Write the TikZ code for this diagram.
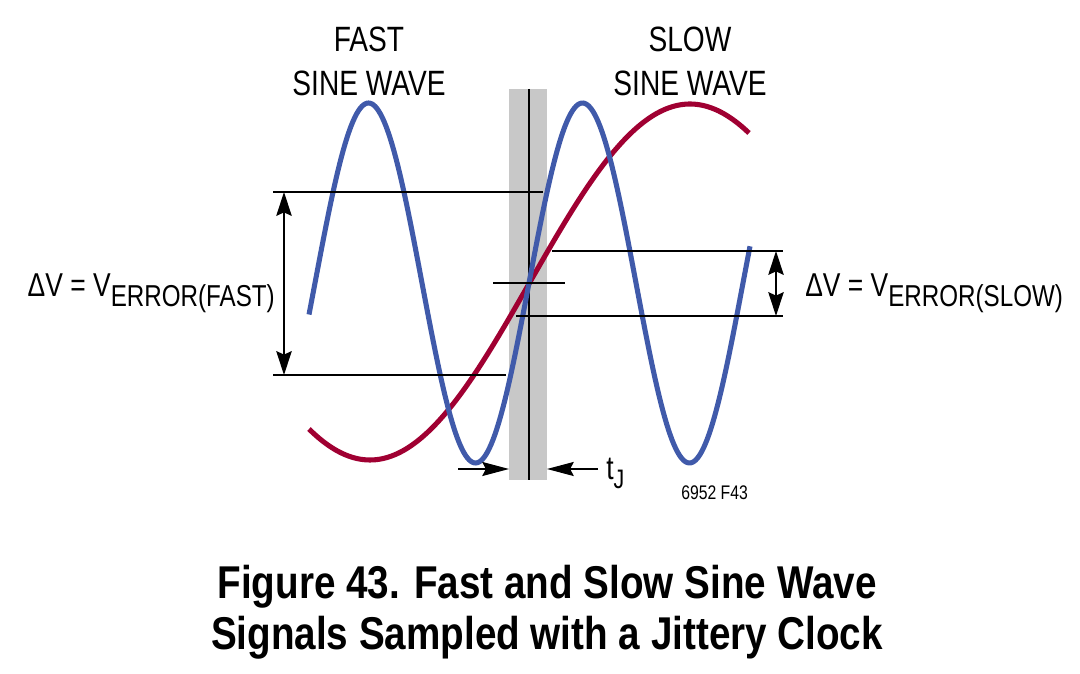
\documentclass[tikz,border=0pt]{standalone}
\usepackage{fontspec}
\setmainfont{Liberation Sans}
\newfontfamily\labfont[FakeStretch=0.8]{Liberation Sans}
\newfontfamily\capfont[FakeStretch=0.84]{Liberation Sans}
\usetikzlibrary{arrows.meta,positioning}
\definecolor{fastblue}{RGB}{64,90,170}
\definecolor{slowred}{RGB}{160,0,50}
\definecolor{jitgray}{RGB}{200,200,200}

\begin{document}
\begin{tikzpicture}[x=0.025cm, y=-0.025cm,
    wave/.style={line width=3.6pt},
    thinline/.style={line width=0.9pt},
    dimarrow/.style={line width=0.9pt, {Stealth[length=17pt,width=11pt,inset=2.5pt]}-{Stealth[length=17pt,width=11pt,inset=2.5pt]}},
    tjarrow/.style={line width=0.9pt, -{Stealth[length=19pt,width=10pt,inset=2.5pt]}},
    lab/.style={inner sep=0pt, font=\labfont\fontsize{23.5}{28}\selectfont}]
    \useasboundingbox (0,0) rectangle (1080,674);

    % Banda di jitter del clock
    \fill[jitgray] (509,89) rectangle (547,480);
    \coordinate (clk_top) at (529,89);
    \coordinate (clk_bot) at (529,480);
    \draw[thinline] (clk_top) -- (clk_bot);

    % Onde sinusoidali
    \draw[wave, slowred] plot[domain=309:749, samples=160] (\x, {282 - 178*sin(0.5625*(\x-530))});
    \draw[wave, fastblue] plot[domain=309:750, samples=260] (\x, {283 - 180*sin(1.68224*(\x-529))});

    % Livelli di errore
    \coordinate (fast_hi_l) at (273,192);
    \coordinate (fast_hi_r) at (543,192);
    \coordinate (fast_lo_l) at (273,375);
    \coordinate (fast_lo_r) at (506,375);
    \coordinate (mid_l) at (493,283);
    \coordinate (mid_r) at (565,283);
    \coordinate (slow_hi_l) at (552,251);
    \coordinate (slow_hi_r) at (783,251);
    \coordinate (slow_lo_l) at (516,316);
    \coordinate (slow_lo_r) at (783,316);
    \draw[thinline] (fast_hi_l) -- (fast_hi_r);
    \draw[thinline] (fast_lo_l) -- (fast_lo_r);
    \draw[thinline] (mid_l) -- (mid_r);
    \draw[thinline] (slow_hi_l) -- (slow_hi_r);
    \draw[thinline] (slow_lo_l) -- (slow_lo_r);

    % Frecce di quota
    \coordinate (fast_top) at (284,192);
    \coordinate (fast_bot) at (284,375);
    \coordinate (slow_top) at (776,251);
    \coordinate (slow_bot) at (776,316);
    \draw[dimarrow] (fast_top) -- (fast_bot);
    \draw[dimarrow] (slow_top) -- (slow_bot);

    % Frecce del jitter
    \coordinate (tj_l_start) at (458,469);
    \coordinate (tj_l_end) at (509,469);
    \coordinate (tj_r_start) at (598,469);
    \coordinate (tj_r_end) at (547,469);
    \draw[tjarrow] (tj_l_start) -- (tj_l_end);
    \draw[tjarrow] (tj_r_start) -- (tj_r_end);

    % Etichette
    \node[lab, anchor=north, align=center, font=\labfont\fontsize{25}{31.3}\selectfont] (fast_lab) at (369,27) {FAST\\SINE WAVE};
    \node[lab, anchor=north, align=center, font=\labfont\fontsize{25}{31.3}\selectfont] (slow_lab) at (690,27) {SLOW\\SINE WAVE};
    \node[lab, anchor=base east] (err_fast) at (275,297) {ΔV = V\raisebox{-6.5pt}{\fontsize{21.5}{21.5}\selectfont ERROR(FAST)}};
    \node[lab, anchor=base west] (err_slow) at (805,297) {ΔV = V\raisebox{-6.5pt}{\fontsize{21.5}{21.5}\selectfont ERROR(SLOW)}};
    \node[lab, anchor=base west] (tj_lab) at (606,480) {t\raisebox{-5.7pt}{\fontsize{19}{19}\selectfont J}};
    \node[lab, anchor=base west, font=\labfont\fontsize{14}{16}\selectfont] (fig_id) at (681,500) {6952 F43};

    % Didascalia
    \node[inner sep=0pt, anchor=north, align=center, font=\capfont\bfseries\fontsize{32.7}{36.2}\selectfont] (caption) at (547,565) {Figure 43. Fast and Slow Sine Wave\\Signals Sampled with a Jittery Clock};
\end{tikzpicture}
\end{document}
